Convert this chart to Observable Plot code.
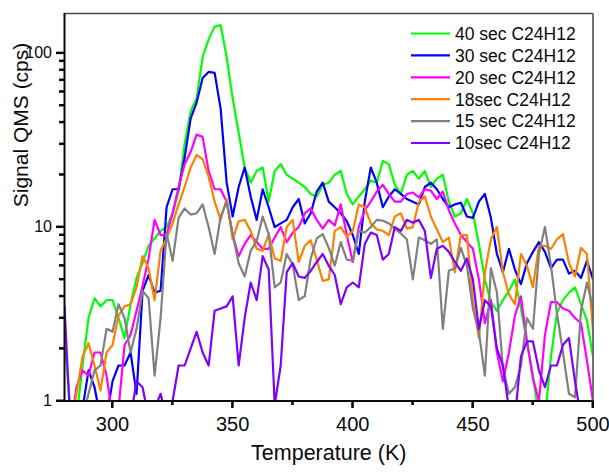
<!DOCTYPE html>
<html>
<head>
<meta charset="utf-8">
<script src="https://cdn.jsdelivr.net/npm/d3@7"></script>
<script src="https://cdn.jsdelivr.net/npm/@observablehq/plot@0.6"></script>
<style>
  html, body { margin: 0; padding: 0; background: #fff; }
  #chart { position: relative; width: 609px; height: 472px; }
</style>
</head>
<body>
<div id="chart"></div>
<script>
// Temperature grid (K), one sample every 2.5 K
const temps = d3.range(280, 500.001, 2.5);

// Signal QMS (cps); values < 1 fall below the axis
const s40 = [2.2,0.9,0.8,1.6,3.0,3.9,3.5,3.8,3.8,3.0,
  2.3,3.6,5.1,6.2,7.8,8.6,9.5,10,12,16,
  30,46,55,95,120,142,145,95,55,35,
  22,18,21,22,14,21,23,20,19,18,
  17,15.5,15,17.5,18,20,21,15.5,13.5,15,
  16.5,18.5,18,24,23,17.5,15.5,20,21,19,
  21,17,19,20,14,11.5,12,14.5,12,8,
  5,3.7,3.3,3.8,4.3,5,3.4,2.2,1.4,0.8,
  0.8,1.8,3.2,3.8,4.2,4.5,3.6,2.9,1.8];
const s30 = [0.7,0.7,0.7,0.9,1.5,1.2,0.8,0.8,1.3,1.6,
  1.6,1.9,1.1,4.3,5.3,4.2,4.3,13,16.5,16.5,
  25,42,52,72,78,77,48,18,11.5,17,
  22,15,11,16.5,13,10,10.5,11,13,14.5,
  10.5,12,16,18,14,13,12,10.8,9,7,
  14,22,18,13,15,16.5,15.5,14.5,14,13.5,
  17,18,16.5,14.5,13,13.5,13.8,11.5,11.3,14,
  15.5,11.3,7,5.5,7.5,5.7,4.7,6.2,7.2,8.2,
  7.2,5.8,6.5,6.5,5.4,5.6,5.1,6.4,5];
const s20 = [0.7,0.7,1.2,1.5,1.4,1.9,1.9,1.4,0.8,0.9,
  2.1,2.4,3.3,4.6,6.6,11,9,9,12,17,
  23,27,34,33,21,16.5,16.5,14,9,6.8,
  8,9,8.2,7.5,7.5,8.7,10,8.2,9.3,10,
  12,12.8,11,9.8,11,10.2,13.5,9,6.3,10,
  12.5,14,16,17.5,15.5,14,14,15.5,15.8,14.8,
  16.5,16.2,14.5,16,12.5,10.5,9,8.2,7.5,5,
  2.8,3.8,1.9,1.3,1.9,3.1,4,2.2,1.35,1.0,
  2.4,3.7,3.7,3.4,3.3,3,2.8,1.7,1.0];
const s18 = [0.7,0.7,1.1,1.8,2.15,1.6,1.15,1.9,2.1,3.1,
  3.5,3.6,4.5,6.8,5.8,3.8,7.3,8.6,10.5,13.5,
  17,22,26,24.5,19.5,14,11,14.5,8.5,10.8,
  11,9.5,7.5,7.3,9.1,6.6,6.4,10,11,6.3,
  7.8,8.4,6.5,4.9,5,9.5,10,8.8,9.5,13.5,
  13,10.5,9.7,9.5,9,11.5,12,9.8,10,14,
  15,11.5,9.7,8.2,8.7,5.5,9,9,3.8,2.3,
  5.5,8.5,10,5.5,4.1,3.6,7,6,4.5,7.8,
  7.8,7.5,8.5,9.1,6.2,5.2,7.6,7,2.5];
const s15 = [0.7,0.7,0.7,0.8,1.1,1.5,1.6,2.6,2.5,3.6,
  3,1.9,2.6,4.3,3.9,1.4,3,9.2,6.4,11.3,
  12.8,11.8,12,13.5,10,7,11.5,14,9.1,6.2,
  5.2,7.3,8.3,11.5,9.1,4.5,4.8,7,6.1,3.8,
  4,6.6,8.6,9.1,7.6,6,8.2,6.5,6.4,9.5,
  9.3,10,11,10.9,10.5,9.8,9.2,8.5,5,8.7,
  8.4,8,8.5,2.6,5.6,5.8,7.6,6,3.4,2.5,
  1.4,5.8,4.2,1.55,1.1,1.2,1.6,3.0,2.6,7,
  10,6,3.2,1.9,1.1,1.05,3.3,4.8,3.4];
const s10 = [3.5,0.7,0.7,0.7,0.7,0.7,0.7,0.7,0.7,0.7,
  0.7,0.8,1.3,1.2,0.8,0.9,1.1,0.8,1.0,1.6,
  1.6,2.0,2.5,1.9,1.6,3.3,3.4,3.5,4.0,1.6,
  3,4.8,3.8,6.8,5.7,0.95,1.6,5.5,6.2,5.2,
  5.1,5.6,6.3,7,6,5.3,3.6,4.5,4.8,4.5,
  8,9.3,9,6.5,7,10,9.5,11,10.6,11,
  9.5,5.1,7.5,7.8,7.2,6.3,5.6,6.6,5,2.6,
  3.8,3.5,2.0,1.6,0.9,0.8,1.8,2.2,2.2,1.5,
  1.2,1.6,1.6,2.1,2.3,1.3,0.8,0.7,0.7];

const seriesNames = ["40 sec C24H12","30 sec C24H12","20 sec C24H12","18sec C24H12","15 sec C24H12","10sec C24H12"];
const seriesValues = [s40, s30, s20, s18, s15, s10];
const seriesColors = ["#00ff00","#0000ff","#ff00ff","#ff8000","#808080","#8000ff"];

const xDomain = [280, 500];
const yDomain = [1, 169];
const xMajor = [300, 350, 400, 450, 500];
const xMinor = [325, 375, 425, 475];
const yMajor = [1, 10, 100];
const yMinor = [2,3,4,5,6,7,8,9,20,30,40,50,60,70,80,90];

const rows = [];
seriesNames.forEach((name, i) => {
  seriesValues[i].forEach((v, j) => rows.push({series: name, T: temps[j], v}));
});

const font = "'Liberation Sans', Arial, Helvetica, sans-serif";
const ink = "rgb(10,10,10)";

const svg = Plot.plot({
  width: 609,
  height: 472,
  marginLeft: 64,
  marginRight: 16.5,
  marginTop: 13,
  marginBottom: 71.5,
  style: {fontFamily: font, background: "#fff"},
  x: {domain: xDomain},
  y: {type: "log", domain: yDomain},
  color: {domain: seriesNames, range: seriesColors},
  marks: [
    ...seriesNames.map((name) =>
      Plot.line(rows.filter(d => d.series === name), {
        x: "T", y: "v", stroke: "series", strokeWidth: 2.2, clip: true, strokeLinejoin: "round"
      })
    ),
    Plot.axisX({ticks: xMajor, tickSize: 7.5, tickPadding: 8, fontSize: 20, tickFormat: d => d, label: null, stroke: ink, strokeWidth: 2, fill: ink}),
    Plot.axisX({ticks: xMinor, tickSize: 4.5, text: null, label: null, stroke: ink, strokeWidth: 2}),
    Plot.axisY({ticks: yMajor, tickSize: 8, tickPadding: 4.5, fontSize: 16, tickFormat: d => d, label: null, stroke: ink, strokeWidth: 2, fill: ink}),
    Plot.axisY({ticks: yMinor, tickSize: 5, text: null, label: null, stroke: ink, strokeWidth: 2}),
    Plot.ruleY([yDomain[1]], {stroke: "#444", strokeWidth: 1.5}),
    Plot.ruleX([xDomain[1]], {stroke: "#444", strokeWidth: 1.5}),
    Plot.ruleY([yDomain[0]], {stroke: ink, strokeWidth: 2}),
    Plot.ruleX([xDomain[0]], {stroke: ink, strokeWidth: 2}),
    Plot.text(["Temperature (K)"], {frameAnchor: "bottom", dy: 58.5, fontSize: 21.5, fill: ink}),
    Plot.text(["Signal QMS (cps)"], {frameAnchor: "left", rotate: -90, dx: -43.5, fontSize: 21, fill: ink})
  ]
});

// Outward tick marks again, drawn directly at Plot's scale positions
const sx = svg.scale("x"), sy = svg.scale("y");
const x0 = sx.apply(xDomain[0]), y0 = sy.apply(yDomain[0]);
const tg = d3.select(svg).append("g");
const tick = (x1, x2, y1, y2) => tg.append("line")
  .attr("x1", x1).attr("x2", x2).attr("y1", y1).attr("y2", y2)
  .attr("stroke", ink).attr("stroke-width", 2).style("stroke", ink);
yMajor.forEach(v => tick(x0 - 8, x0, sy.apply(v), sy.apply(v)));
yMinor.forEach(v => tick(x0 - 5, x0, sy.apply(v), sy.apply(v)));
xMajor.forEach(v => tick(sx.apply(v), sx.apply(v), y0, y0 + 7.5));
xMinor.forEach(v => tick(sx.apply(v), sx.apply(v), y0, y0 + 4.5));

// Legend inside the plot, top-right
const lg = d3.select(svg).append("g")
  .attr("font-family", font).attr("font-size", 17.5).attr("text-anchor", "start");
seriesNames.forEach((name, i) => {
  const yy = 33.5 + 21.9 * i;
  lg.append("line").attr("x1", 411).attr("x2", 450).attr("y1", yy).attr("y2", yy)
    .attr("stroke", seriesColors[i]).attr("stroke-width", 2.2);
  lg.append("text").attr("x", 455).attr("y", yy + 6.3).attr("fill", ink).text(name);
});

document.getElementById("chart").appendChild(svg);
</script>
</body>
</html>
